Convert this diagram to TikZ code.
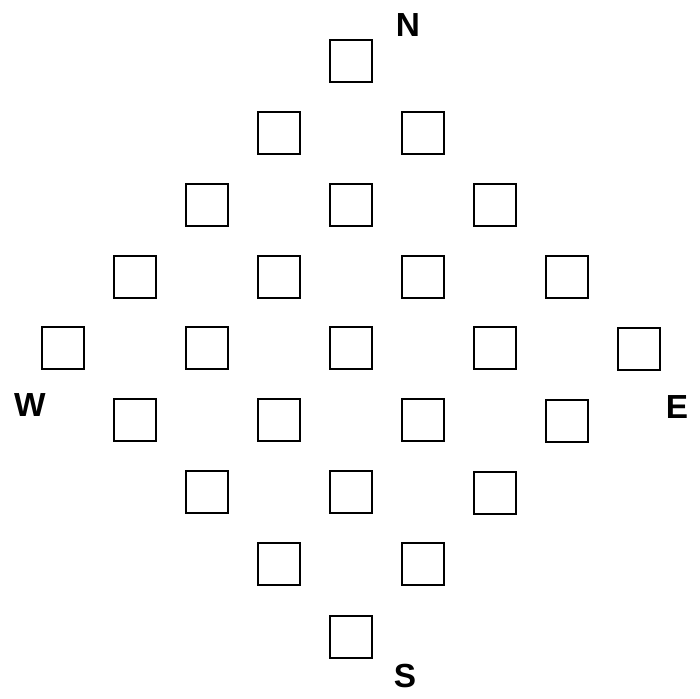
\documentclass[tikz,border=0pt]{standalone}
\usepackage{fontspec}
\setmainfont{Liberation Sans}
\usetikzlibrary{positioning}

\begin{document}
\begin{tikzpicture}[x=0.02cm,y=-0.02cm,
  cell/.style={draw,line width=1.2pt,minimum size=0.84cm,inner sep=0pt},
  compass/.style={font=\bfseries\fontsize{19}{19}\selectfont,inner sep=0pt}]

\useasboundingbox (0,0) rectangle (700,699);

% row 0
\node[cell] (r0c4) at (351,61) {};
% row 1
\node[cell] (r1c3) at (279,133) {};
\node[cell] (r1c5) at (423,133) {};
% row 2
\node[cell] (r2c2) at (207,205) {};
\node[cell] (r2c4) at (351,205) {};
\node[cell] (r2c6) at (495,205) {};
% row 3
\node[cell] (r3c1) at (135,277) {};
\node[cell] (r3c3) at (279,277) {};
\node[cell] (r3c5) at (423,277) {};
\node[cell] (r3c7) at (567,277) {};
% row 4
\node[cell] (r4c0) at (63,348) {};
\node[cell] (r4c2) at (207,348) {};
\node[cell] (r4c4) at (351,348) {};
\node[cell] (r4c6) at (495,348) {};
\node[cell] (r4c8) at (639,349) {};
% row 5
\node[cell] (r5c1) at (135,420) {};
\node[cell] (r5c3) at (279,420) {};
\node[cell] (r5c5) at (423,420) {};
\node[cell] (r5c7) at (567,421) {};
% row 6
\node[cell] (r6c2) at (207,492) {};
\node[cell] (r6c4) at (351,492) {};
\node[cell] (r6c6) at (495,493) {};
% row 7
\node[cell] (r7c3) at (279,564) {};
\node[cell] (r7c5) at (423,564) {};
% row 8
\node[cell] (r8c4) at (351,637) {};

% compass letters
\node[compass] (north) at (408,25)  {N};
\node[compass] (west)  at (30,405)  {W};
\node[compass] (east)  at (677,407) {E};
\node[compass] (south) at (405,676) {S};
\end{tikzpicture}
\end{document}
